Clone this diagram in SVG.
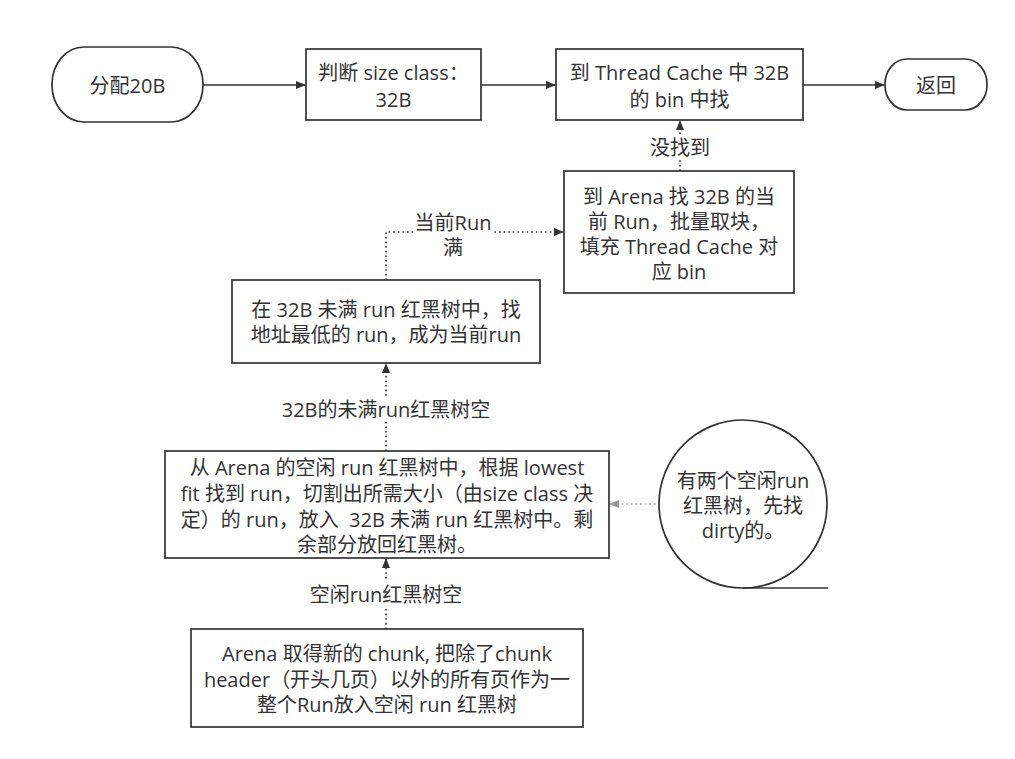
<svg xmlns="http://www.w3.org/2000/svg" width="1015" height="759" viewBox="0 0 1015 759">
<style>
.n{fill:#fff;stroke:#333;stroke-width:1.7}
.t{font-family:"Open Sans","Noto Sans CJK SC",sans-serif;font-size:20px;fill:#333;text-anchor:middle;dominant-baseline:central}
.c{fill:none;stroke:#333;stroke-width:1.6}
.d{fill:none;stroke:#333;stroke-width:1.6;stroke-dasharray:1.6 3}
.g{fill:none;stroke:#999;stroke-width:1.6;stroke-dasharray:1.6 3}
.lb{fill:#fff}
</style>
<defs>
<marker id="a" viewBox="0 0 10 10" refX="10" refY="5" markerWidth="10" markerHeight="10" markerUnits="userSpaceOnUse" orient="auto"><path d="M0,1 L10,5 L0,9 Z" fill="#333"/></marker>
<marker id="ag" viewBox="0 0 10 10" refX="10" refY="5" markerWidth="10" markerHeight="10" markerUnits="userSpaceOnUse" orient="auto"><path d="M0,1 L10,5 L0,9 Z" fill="#999"/></marker>
</defs>
<rect width="1015" height="759" fill="#fff"/>
<g id="connectors">
<path class="c" d="M203,85 H306" marker-end="url(#a)"/>
<path class="c" d="M481,85 H556" marker-end="url(#a)"/>
<path class="c" d="M803,85 H885" marker-end="url(#a)"/>
<path class="d" d="M680,171 V120" marker-end="url(#a)"/>
<rect class="lb" x="645" y="134" width="70" height="26"/>
<text class="t" x="680" y="147">没找到</text>
<path class="d" d="M386,280 V232 H564" marker-end="url(#a)"/>
<rect class="lb" x="413" y="210" width="80" height="50"/>
<text class="t" x="453" y="222">当前Run</text>
<text class="t" x="453" y="247">满</text>
<path class="d" d="M386,451 V363" marker-end="url(#a)"/>
<rect class="lb" x="280" y="396" width="212" height="26"/>
<text class="t" x="386" y="409">32B的未满run红黑树空</text>
<path class="d" d="M386,629 V558" marker-end="url(#a)"/>
<rect class="lb" x="306" y="581" width="160" height="26"/>
<text class="t" x="386" y="594">空闲run红黑树空</text>
<path class="g" d="M660,504 H609" marker-end="url(#ag)"/>
</g>
<g id="alloc">
<rect class="n" x="52" y="47" width="151" height="75" rx="32" ry="37"/>
<text class="t" x="127.5" y="85">分配20B</text>
</g>
<g id="sizeclass">
<rect class="n" x="306" y="49" width="175" height="71"/>
<text class="t" x="393.5" y="72">判断 size class：</text>
<text class="t" x="393.5" y="99">32B</text>
</g>
<g id="threadcache">
<rect class="n" x="556" y="49" width="247" height="71"/>
<text class="t" x="679.5" y="72">到 Thread Cache 中 32B</text>
<text class="t" x="679.5" y="99">的 bin 中找</text>
</g>
<g id="return">
<rect class="n" x="885" y="59" width="102" height="51" rx="22" ry="25"/>
<text class="t" x="936" y="85">返回</text>
</g>
<g id="arena">
<rect class="n" x="564" y="171" width="230" height="122"/>
<text class="t" x="679" y="196">到 Arena 找 32B 的当</text>
<text class="t" x="679" y="221">前 Run，批量取块，</text>
<text class="t" x="679" y="246">填充 Thread Cache 对</text>
<text class="t" x="679" y="271">应 bin</text>
</g>
<g id="nonfull">
<rect class="n" x="232" y="280" width="308" height="83"/>
<text class="t" x="386" y="309">在 32B 未满 run 红黑树中，找</text>
<text class="t" x="386" y="334">地址最低的 run，成为当前run</text>
</g>
<g id="freetree">
<rect class="n" x="165" y="451" width="444" height="107"/>
<text class="t" x="387" y="467">从 Arena 的空闲 run 红黑树中，根据 lowest</text>
<text class="t" x="387" y="493">fit 找到 run，切割出所需大小（由size class 决</text>
<text class="t" x="387" y="519">定）的 run，放入&#160; 32B 未满 run 红黑树中。剩</text>
<text class="t" x="387" y="544">余部分放回红黑树。</text>
</g>
<g id="chunk">
<rect class="n" x="191" y="629" width="392" height="98"/>
<text class="t" x="387" y="653">Arena 取得新的 chunk, 把除了chunk</text>
<text class="t" x="387" y="679">header（开头几页）以外的所有页作为一</text>
<text class="t" x="387" y="704">整个Run放入空闲 run 红黑树</text>
</g>
<g id="note">
<circle class="n" cx="743" cy="504" r="84"/>
<path class="c" d="M743,588 H828"/>
<text class="t" x="743" y="480">有两个空闲run</text>
<text class="t" x="743" y="505">红黑树，先找</text>
<text class="t" x="743" y="530">dirty的。</text>
</g>
</svg>
